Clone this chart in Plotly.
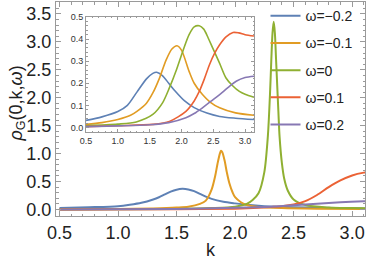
import plotly.graph_objects as go

# ---------------- data ----------------
labels = ["ω=−0.2", "ω=−0.1", "ω=0", "ω=0.1", "ω=0.2"]
colors = ["#5E81B5", "#E19C24", "#8FB032", "#EB6235", "#8778B3"]

# main panel
k_blue = [0.5, 0.75, 1.0, 1.1, 1.2, 1.3, 1.35, 1.4, 1.45, 1.5, 1.55, 1.6, 1.65, 1.7, 1.75, 1.8, 1.9, 2.0, 2.1, 2.25, 2.5, 2.75, 3.0, 3.14]
y_blue = [0.025, 0.04, 0.06, 0.085, 0.12, 0.18, 0.22, 0.27, 0.32, 0.355, 0.37, 0.36, 0.33, 0.28, 0.23, 0.19, 0.14, 0.11, 0.085, 0.06, 0.04, 0.03, 0.022, 0.02]

k_orange = [0.5, 1.0, 1.3, 1.5, 1.6, 1.7, 1.75, 1.8, 1.83, 1.85, 1.87, 1.88, 1.89, 1.91, 1.93, 1.95, 1.98, 2.0, 2.05, 2.1, 2.2, 2.4, 2.7, 3.14]
y_orange = [0.005, 0.01, 0.02, 0.035, 0.05, 0.1, 0.16, 0.36, 0.6, 0.82, 1.0, 1.05, 1.03, 0.88, 0.66, 0.48, 0.3, 0.22, 0.13, 0.08, 0.045, 0.025, 0.015, 0.01]

k_green = [0.5, 1.5, 1.8, 2.0, 2.1, 2.15, 2.2, 2.25, 2.28, 2.3, 2.31, 2.32, 2.33, 2.34, 2.35, 2.37, 2.38, 2.4, 2.42, 2.45, 2.5, 2.6, 2.8, 3.0, 3.14]
y_green = [0.0, 0.01, 0.025, 0.05, 0.1, 0.17, 0.29, 0.67, 1.31, 2.15, 2.7, 3.16, 3.36, 3.16, 2.69, 1.75, 1.31, 0.83, 0.55, 0.34, 0.18, 0.08, 0.035, 0.025, 0.02]

k_red = [0.5, 1.5, 2.0, 2.2, 2.3, 2.4, 2.5, 2.6, 2.7, 2.8, 2.9, 3.0, 3.1, 3.14]
y_red = [0.0, 0.005, 0.015, 0.03, 0.045, 0.06, 0.09, 0.15, 0.26, 0.4, 0.52, 0.61, 0.66, 0.67]

k_purple = [0.5, 1.5, 2.0, 2.3, 2.5, 2.7, 2.9, 3.1, 3.14]
y_purple = [0.0, 0.01, 0.03, 0.05, 0.075, 0.105, 0.13, 0.148, 0.15]

# inset panel
ki_blue = [0.5, 0.75, 1.0, 1.15, 1.3, 1.45, 1.55, 1.61, 1.7, 1.8, 1.9, 2.05, 2.2, 2.4, 2.6, 2.85, 3.14]
yi_blue = [0.032, 0.048, 0.072, 0.1, 0.16, 0.22, 0.245, 0.25, 0.235, 0.2, 0.165, 0.12, 0.09, 0.065, 0.05, 0.042, 0.036]

ki_orange = [0.5, 0.75, 1.0, 1.2, 1.3, 1.45, 1.55, 1.65, 1.76, 1.85, 1.93, 2.0, 2.12, 2.2, 2.33, 2.45, 2.6, 2.85, 3.14]
yi_orange = [0.014, 0.022, 0.036, 0.055, 0.073, 0.11, 0.156, 0.22, 0.306, 0.355, 0.37, 0.35, 0.254, 0.2, 0.149, 0.115, 0.089, 0.066, 0.055]

ki_green = [0.5, 1.0, 1.29, 1.55, 1.7, 1.81, 1.92, 2.02, 2.12, 2.2, 2.28, 2.35, 2.42, 2.49, 2.6, 2.7, 2.8, 2.91, 3.0, 3.14]
yi_green = [0.008, 0.015, 0.025, 0.059, 0.11, 0.179, 0.26, 0.344, 0.42, 0.455, 0.46, 0.445, 0.405, 0.36, 0.29, 0.224, 0.19, 0.163, 0.15, 0.137]

ki_red = [0.5, 1.0, 1.55, 1.81, 2.07, 2.2, 2.28, 2.36, 2.44, 2.52, 2.6, 2.7, 2.81, 2.9, 3.0, 3.14]
yi_red = [0.004, 0.008, 0.014, 0.027, 0.073, 0.12, 0.163, 0.22, 0.284, 0.335, 0.374, 0.41, 0.43, 0.428, 0.42, 0.414]

ki_purple = [0.5, 1.0, 1.5, 1.8, 2.07, 2.2, 2.33, 2.46, 2.6, 2.73, 2.86, 3.0, 3.14]
yi_purple = [0.004, 0.007, 0.012, 0.022, 0.044, 0.063, 0.089, 0.118, 0.149, 0.18, 0.209, 0.226, 0.232]

main_k = [k_blue, k_orange, k_green, k_red, k_purple]
main_y = [y_blue, y_orange, y_green, y_red, y_purple]
ins_k = [ki_blue, ki_orange, ki_green, ki_red, ki_purple]
ins_y = [yi_blue, yi_orange, yi_green, yi_red, yi_purple]

# ---------------- figure ----------------
fig = go.Figure()
for i in range(5):
    fig.add_trace(go.Scatter(
        x=main_k[i], y=main_y[i], mode="lines", name=labels[i],
        line=dict(color=colors[i], width=2, shape="spline", smoothing=0.8),
        legendgroup=str(i), xaxis="x", yaxis="y"))
for i in range(5):
    fig.add_trace(go.Scatter(
        x=ins_k[i], y=ins_y[i], mode="lines", showlegend=False,
        line=dict(color=colors[i], width=1.6, shape="spline", smoothing=0.8),
        xaxis="x2", yaxis="y2"))

frame = "#9a9a9a"
FAM = "Liberation Sans, Arial, sans-serif"
font_main = dict(family=FAM, size=18, color="#222")
font_ins = dict(family=FAM, size=9, color="#333")

common = dict(showline=True, linecolor=frame, linewidth=1, mirror="ticks",
              ticks="inside", tickcolor=frame, showgrid=False, zeroline=False,
              automargin=False)

fig.update_layout(
    width=366, height=263,
    margin=dict(l=56, r=1, t=1, b=47),
    paper_bgcolor="white", plot_bgcolor="white",
    xaxis=dict(range=[0.47, 3.11], dtick=0.5, tick0=0.5, ticklen=5, tickfont=font_main,
               tickformat=".1f",
               minor=dict(dtick=0.1, ticklen=2.5, tickcolor=frame, ticks="inside"), **common),
    yaxis=dict(range=[-0.116, 3.714], dtick=0.5, tick0=0, ticklen=5, tickfont=font_main,
               tickformat=".1f",
               minor=dict(dtick=0.1, ticklen=2.5, tickcolor=frame, ticks="inside"), **common),
    xaxis2=dict(domain=[0.0971, 0.6408], anchor="y2", range=[0.5, 3.14], dtick=0.5, tick0=0.5,
                ticklen=3, tickfont=font_ins, tickformat=".1f",
                minor=dict(dtick=0.1, ticklen=1.5, tickcolor=frame, ticks="inside"), **common),
    yaxis2=dict(domain=[0.391, 0.930], anchor="x2", range=[-0.022, 0.5], dtick=0.1, tick0=0,
                ticklen=3, tickfont=font_ins, tickformat=".1f",
                minor=dict(dtick=0.02, ticklen=1.5, tickcolor=frame, ticks="inside"), **common),
    legend=dict(x=0.678, y=1.004, xanchor="left", yanchor="top",
                bgcolor="rgba(0,0,0,0)", font=dict(family=FAM, size=14, color="#222"),
                tracegroupgap=6, itemwidth=30, maxheight=250),
    showlegend=True,
    annotations=[
        dict(text="<i>ρ</i><sub>G</sub>(0,k,<i>ω</i>)", xref="paper", yref="paper",
             x=-0.126, y=0.526, xanchor="center", yanchor="middle", textangle=-90,
             showarrow=False, font=dict(family=FAM, size=18, color="#222")),
        dict(text="k", xref="paper", yref="paper", x=0.501, y=-0.158,
             xanchor="center", yanchor="middle", showarrow=False,
             font=dict(family=FAM, size=18, color="#222")),
    ],
)

fig.write_html("out.html", config={"displayModeBar": False},
               post_script="document.body.style.margin='0px';document.body.style.overflow='hidden';")
